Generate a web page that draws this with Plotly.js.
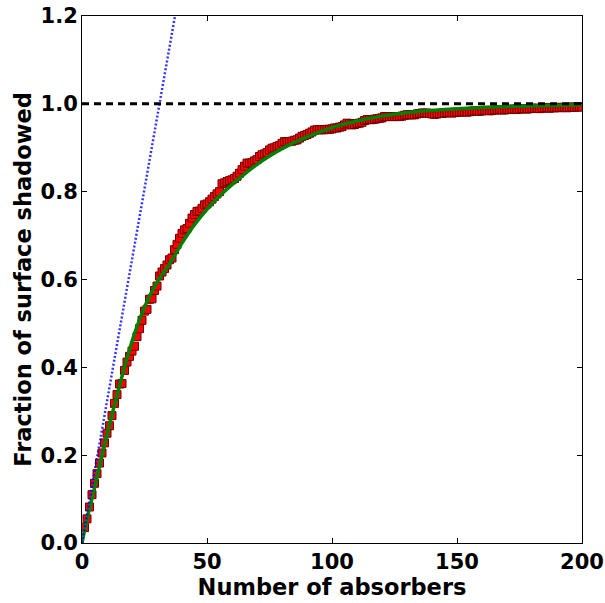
<!DOCTYPE html>
<html>
<head>
<meta charset="utf-8">
<script src="https://cdn.plot.ly/plotly-3.0.1.min.js"></script>
<style>html,body{margin:0;padding:0;background:#fff;}#chart{width:605px;height:603px;}</style>
</head>
<body>
<div id="chart"></div>
<script>
// Simulated shadowed fraction, one point per absorber count 1..200
const simFraction = [
  0.035,0.055,0.082,0.110,0.136,0.158,0.182,0.205,0.228,0.250,
  0.267,0.290,0.318,0.338,0.362,0.363,0.393,0.412,0.425,0.437,
  0.448,0.470,0.488,0.507,0.528,0.532,0.555,0.556,0.575,0.585,
  0.608,0.617,0.625,0.633,0.645,0.649,0.668,0.680,0.694,0.705,
  0.713,0.716,0.728,0.740,0.748,0.755,0.756,0.762,0.770,0.772,
  0.777,0.783,0.789,0.795,0.800,0.818,0.820,0.823,0.825,0.827,
  0.830,0.835,0.842,0.850,0.858,0.865,0.865,0.866,0.870,0.873,
  0.880,0.884,0.886,0.889,0.895,0.899,0.900,0.903,0.905,0.910,
  0.914,0.914,0.914,0.915,0.917,0.918,0.922,0.926,0.928,0.930,
  0.933,0.936,0.940,0.941,0.941,0.941,0.941,0.942,0.942,0.943,
  0.945,0.945,0.947,0.948,0.952,0.956,0.955,0.952,0.953,0.955,
  0.956,0.958,0.962,0.964,0.964,0.964,0.965,0.966,0.967,0.968,
  0.971,0.971,0.971,0.971,0.971,0.971,0.971,0.972,0.974,0.975,
  0.975,0.975,0.975,0.977,0.978,0.979,0.979,0.979,0.978,0.977,
  0.976,0.977,0.978,0.978,0.979,0.980,0.980,0.979,0.980,0.981,
  0.981,0.982,0.982,0.981,0.982,0.983,0.984,0.984,0.983,0.984,
  0.985,0.985,0.984,0.985,0.986,0.986,0.987,0.986,0.986,0.987,
  0.987,0.988,0.988,0.987,0.988,0.989,0.989,0.988,0.989,0.990,
  0.990,0.990,0.989,0.990,0.991,0.991,0.990,0.991,0.991,0.992,
  0.991,0.992,0.992,0.991,0.992,0.993,0.992,0.993,0.993,0.993
];
const simAbsorbers = simFraction.map((_, i) => i + 1);

// Model curve (green), read at sample points
const modelX = [0, 2, 4.5, 8.5, 12.5, 16.5, 20.5, 25, 30, 35, 40, 45, 50, 55, 60, 65, 70, 75, 80, 90, 100, 110, 120, 135, 150, 170, 200];
const modelY = [0, 0.055, 0.113, 0.212, 0.303, 0.390, 0.468, 0.537, 0.594, 0.635, 0.683, 0.725, 0.760, 0.790, 0.816, 0.840, 0.862, 0.881, 0.898, 0.925, 0.946, 0.961, 0.972, 0.983, 0.989, 0.994, 0.998];

// Linear (no-overlap) limit, blue dotted
const linearX = [0, 37.2];
const linearY = [0, 1.2];

// Full coverage reference line
const fullX = [0, 200];
const fullY = [1.0, 1.0];

const xTicks = [0, 50, 100, 150, 200];
const yTicks = [0.0, 0.2, 0.4, 0.6, 0.8, 1.0, 1.2];
const yTickText = ['0.0', '0.2', '0.4', '0.6', '0.8', '1.0', '1.2'];

const traces = [
  {x: simAbsorbers, y: simFraction, mode: 'markers', type: 'scatter',
   marker: {symbol: 'square', size: 8, color: '#ff0000', line: {color: 'rgb(110,0,0)', width: 1}},
   cliponaxis: true, showlegend: false},
  {x: modelX, y: modelY, mode: 'lines', type: 'scatter',
   line: {color: 'rgb(0,128,0)', width: 3.5, shape: 'spline', smoothing: 0.6}, showlegend: false},
  {x: linearX, y: linearY, mode: 'lines', type: 'scatter',
   line: {color: 'rgba(0,0,255,0.8)', width: 2.5, dash: '2px,2px'}, showlegend: false},
  {x: fullX, y: fullY, mode: 'lines', type: 'scatter',
   line: {color: '#000000', width: 3, dash: '7px,5px'}, showlegend: false}
];

const tickFont = {family: 'DejaVu Sans, sans-serif', size: 21, color: '#000', weight: 'bold'};
const titleFont = {family: 'DejaVu Sans, sans-serif', size: 22.5, color: '#000', weight: 'bold'};

const layout = {
  width: 605, height: 603,
  margin: {l: 82, r: 23, t: 16, b: 60, pad: 0},
  paper_bgcolor: '#fff', plot_bgcolor: '#fff',
  showlegend: false,
  xaxis: {
    range: [0, 200], tickvals: xTicks, ticktext: xTicks.map(String),
    ticks: 'inside', ticklen: 5, tickwidth: 1, tickcolor: '#000',
    showline: true, linecolor: '#000', linewidth: 1, mirror: 'ticks',
    showgrid: false, zeroline: false, tickfont: tickFont,
    title: {text: 'Number of absorbers', font: titleFont, standoff: 4}
  },
  yaxis: {
    range: [0, 1.2], tickvals: yTicks, ticktext: yTickText,
    ticks: 'inside', ticklen: 5, tickwidth: 1, tickcolor: '#000',
    showline: true, linecolor: '#000', linewidth: 1, mirror: 'ticks',
    showgrid: false, zeroline: false, tickfont: tickFont, ticklabelstandoff: -1,
    title: {text: 'Fraction of surface shadowed', font: titleFont, standoff: 2}
  }
};

Plotly.newPlot('chart', traces, layout, {staticPlot: true, displayModeBar: false});
</script>
</body>
</html>
